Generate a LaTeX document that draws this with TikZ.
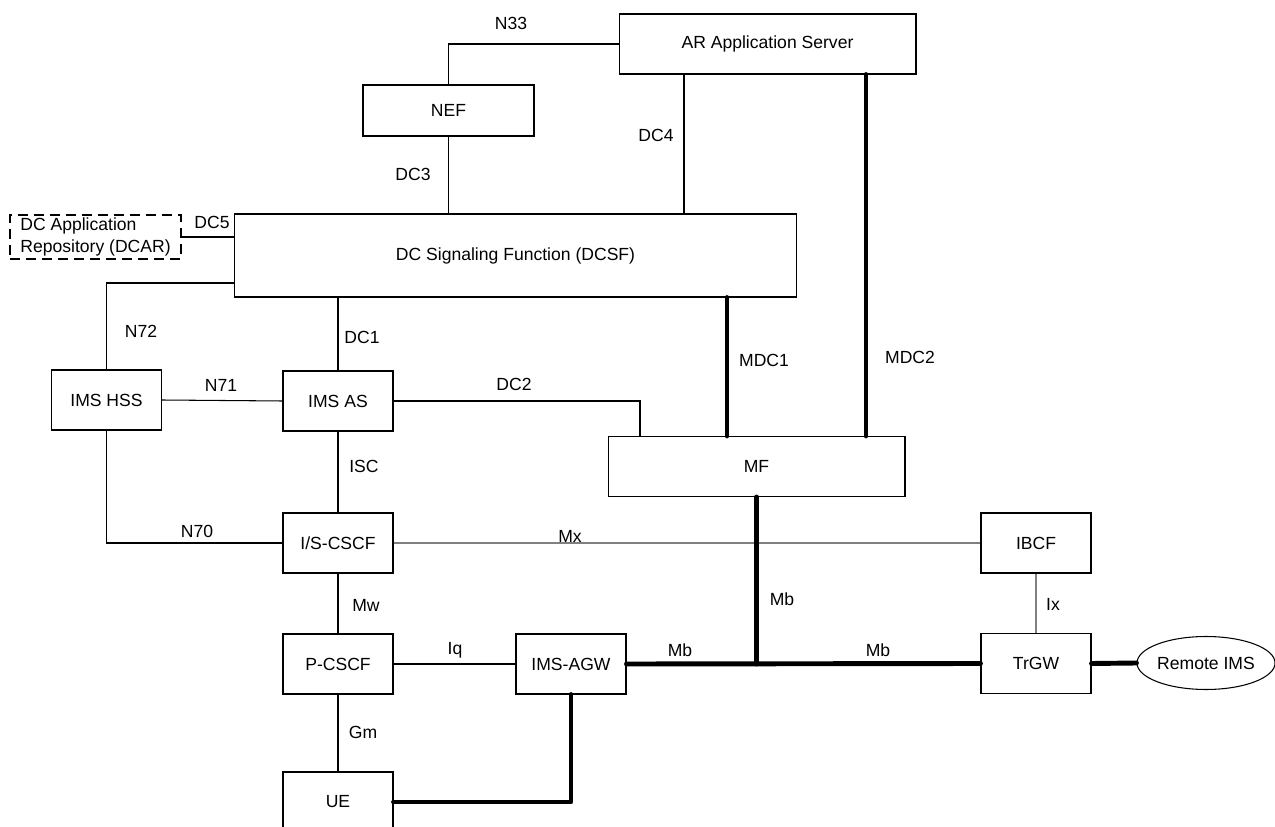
\documentclass[tikz,border=0pt]{standalone}
\usepackage{fontspec}
\setmainfont{Liberation Sans}
\usetikzlibrary{positioning,shapes.geometric}

\begin{document}
\begin{tikzpicture}[x=0.02cm,y=-0.02cm,
    font=\fontsize{10}{12}\selectfont,
    box/.style={draw,line width=0.6pt,inner sep=0pt,minimum width=2.2cm,minimum height=1.2cm},
    link/.style={line width=0.6pt},
    greylink/.style={line width=0.6pt,gray},
    thicklink/.style={line width=2.8pt,line cap=round,line join=round}]
    \useasboundingbox (0,0) rectangle (1275,827);

    % Upper part: AR AS, NEF, DCSF, DCAR
    \node[box,minimum width=5.94cm] (ar) at (767.5,44) {AR Application Server};
    \node[box,minimum width=3.42cm,minimum height=1.02cm] (nef) at (448.5,110.5) {NEF};
    \node[box,minimum width=11.26cm,minimum height=1.66cm] (dcsf) at (515.5,255.5) {DC Signaling Function (DCSF)};
    \node[box,dash pattern=on 0.2cm off 0.12cm,minimum width=3.42cm,minimum height=0.88cm,align=left] (dcar) at (95.5,237) {DC Application\\Repository (DCAR)};

    % IMS core
    \node[box] (hss) at (106.5,400) {IMS HSS};
    \node[box] (imsas) at (338,401) {IMS AS};
    \node[box,minimum width=5.94cm] (mf) at (756.5,466.5) {MF};
    \node[box] (cscf) at (338,543) {I/S-CSCF};
    \node[box] (ibcf) at (1036,543) {IBCF};
    \node[box] (pcscf) at (338,664) {P-CSCF};
    \node[box] (agw) at (571,664) {IMS-AGW};
    \node[box] (trgw) at (1036,663.5) {TrGW};
    \node[draw,ellipse,line width=0.6pt,inner sep=0pt,minimum width=2.76cm,minimum height=1.06cm] (remote) at (1206,663) {Remote IMS};
    \node[box] (ue) at (338,802) {UE};

    % x and y positions of the connectors that leave boxes off centre
    \coordinate (xdc4) at (684,0);
    \coordinate (xmdc1) at (727,0);
    \coordinate (xdc2) at (640,0);
    \coordinate (xmdc2) at (866,0);
    \coordinate (yn72) at (0,283);

    % Thin connectors
    \draw[link] (ar.west) -| (nef.north);
    \draw[link] (nef.south) -- (dcsf.north -| nef.south);
    \draw[link] (ar.south -| xdc4) -- (dcsf.north -| xdc4);
    \draw[link] (dcar.east) -- (dcsf.west |- dcar.east);
    \draw[link] (dcsf.west |- yn72) -| (hss.north);
    \draw[link] (dcsf.south -| imsas.north) -- (imsas.north);
    \draw[link] (hss.east) -- (imsas.west);
    \draw[link] (imsas.east) -| (mf.north -| xdc2);
    \draw[link] (imsas.south) -- (cscf.north);
    \draw[link] (hss.south) |- (cscf.west);
    \draw[greylink] (cscf.east) -- (ibcf.west);
    \draw[link] (cscf.south) -- (pcscf.north);
    \draw[link] (pcscf.east) -- (agw.west);
    \draw[greylink] (ibcf.south) -- (trgw.north);
    \draw[link] (pcscf.south) -- (ue.north);

    % Thick (media) connectors
    \draw[thicklink] (dcsf.south -| xmdc1) -- (mf.north -| xmdc1);
    \draw[thicklink] (ar.south -| xmdc2) -- (mf.north -| xmdc2);
    \draw[thicklink] (agw.east) -- (trgw.west);
    \draw[thicklink] (mf.south) -- (mf.south |- agw.east);
    \draw[thicklink] (trgw.east) -- (remote.west);
    \draw[thicklink] (ue.east) -| (agw.south);

    % Reference point labels
    \node (n33) at (511,23) {N33};
    \node (dc4) at (656,135) {DC4};
    \node (dc3) at (413,174) {DC3};
    \node (dc5) at (212,222) {DC5};
    \node (n72) at (141,331) {N72};
    \node (dc1) at (362,337) {DC1};
    \node (mdc1) at (764,360) {MDC1};
    \node (mdc2) at (910,357) {MDC2};
    \node (n71) at (221,385) {N71};
    \node (dc2) at (514,384) {DC2};
    \node (isc) at (364,466) {ISC};
    \node (n70) at (197,531) {N70};
    \node (mx) at (570,536) {Mx};
    \node (mbv) at (782,599) {Mb};
    \node (mw) at (366,605) {Mw};
    \node (ix) at (1053,604) {Ix};
    \node (iq) at (455,650) {Iq};
    \node (mbl) at (680,650) {Mb};
    \node (mbr) at (878,650) {Mb};
    \node (gm) at (363,732) {Gm};
\end{tikzpicture}
\end{document}
